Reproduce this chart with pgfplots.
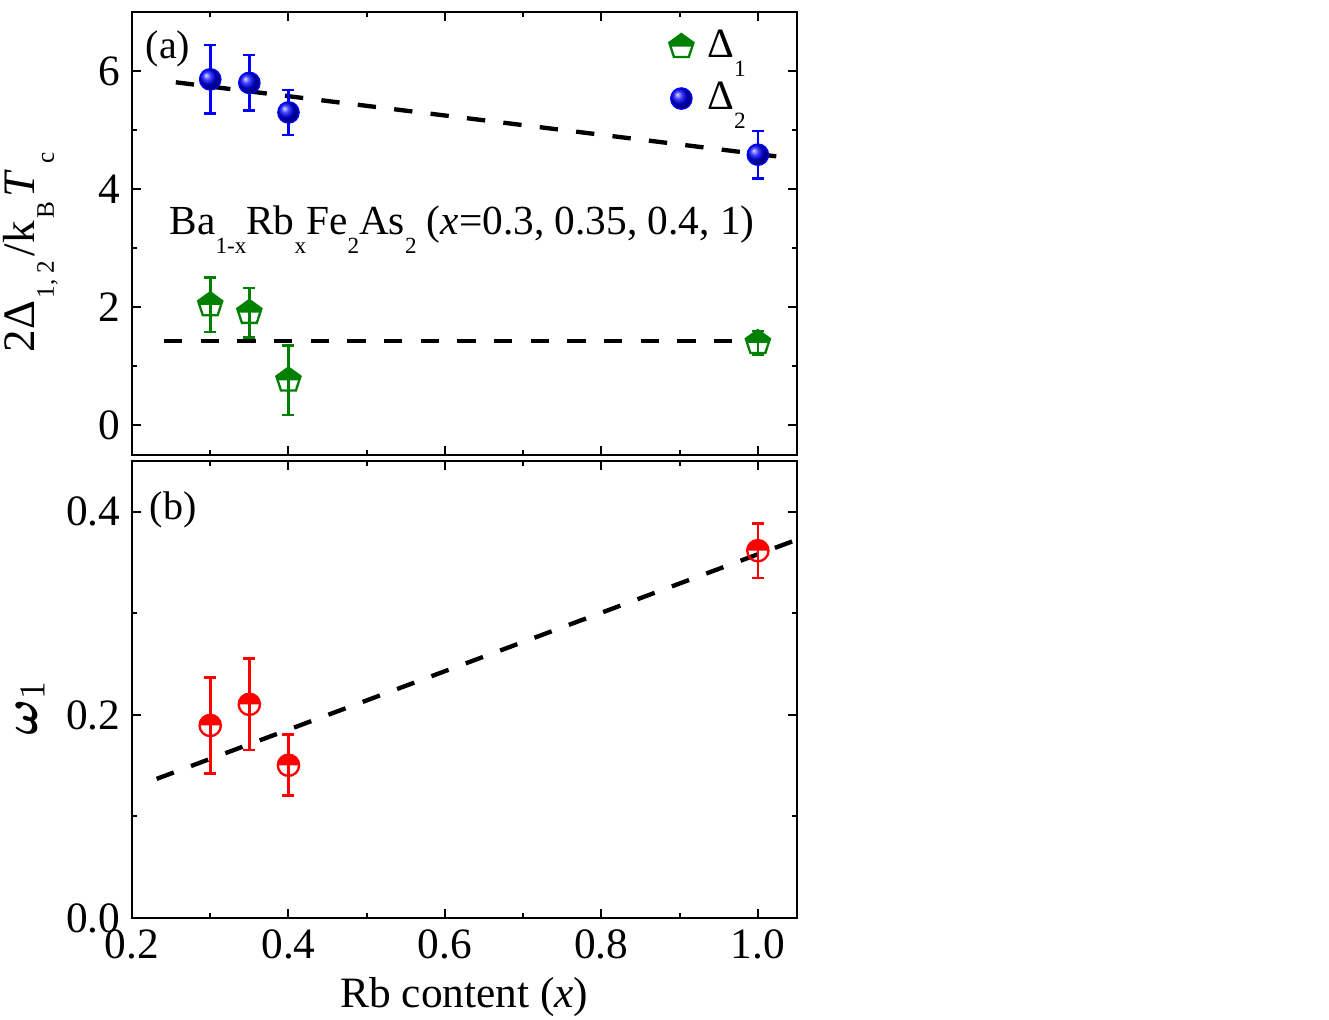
\documentclass[border=0pt]{standalone}
\usepackage{pgfplots}
\pgfplotsset{compat=1.18}
\usepackage{amsmath}
\usepackage{graphicx}
\usepackage{fontspec}
\setmainfont{Liberation Serif}
\usetikzlibrary{plotmarks}
\definecolor{dkgreen}{RGB}{0,128,0}
\definecolor{myblue}{RGB}{0,0,255}
\definecolor{myred}{RGB}{255,0,0}
\newcommand{\sbs}[1]{\raisebox{-0.44em}{\scalebox{0.56}{#1}}}

\pgfdeclareplotmark{halfpent}{%
  \pgfpathmoveto{\pgfpointpolar{90}{\pgfplotmarksize}}%
  \pgfpathlineto{\pgfpointpolar{162}{\pgfplotmarksize}}%
  \pgfpathlineto{\pgfpointpolar{234}{\pgfplotmarksize}}%
  \pgfpathlineto{\pgfpointpolar{306}{\pgfplotmarksize}}%
  \pgfpathlineto{\pgfpointpolar{18}{\pgfplotmarksize}}%
  \pgfpathclose
  \pgfusepathqstroke
  \pgfpathmoveto{\pgfpointpolar{90}{\pgfplotmarksize}}%
  \pgfpathlineto{\pgfpointpolar{162}{\pgfplotmarksize}}%
  \pgfpathlineto{\pgfpoint{-0.851\pgfplotmarksize}{0pt}}%
  \pgfpathlineto{\pgfpoint{0.851\pgfplotmarksize}{0pt}}%
  \pgfpathlineto{\pgfpointpolar{18}{\pgfplotmarksize}}%
  \pgfpathclose
  \pgfusepathqfill
}
\pgfdeclareplotmark{halfcirc}{%
  \pgfpathcircle{\pgfpointorigin}{\pgfplotmarksize}%
  \pgfusepathqstroke
  \pgfpathmoveto{\pgfpoint{\pgfplotmarksize}{0pt}}%
  \pgfpatharc{0}{180}{\pgfplotmarksize}%
  \pgfpathclose
  \pgfusepathqfill
}

\pgfplotsset{
  myaxis/.style={
    scale only axis, width=199.5pt,
    xmin=0.2, xmax=1.05,
    tick align=inside,
    axis line style={line width=0.6pt},
    every tick/.style={black, line width=0.6pt},
    major tick length=2.7pt, minor tick length=1.5pt,
    xtick={0.2,0.4,0.6,0.8,1.0}, minor x tick num=1,
    minor y tick num=1,
    tick label style={font=\fontsize{13}{15}\selectfont},
    /pgf/number format/assume math mode=true,
    label style={font=\fontsize{13}{15}\selectfont},
  },
  fitline/.style={black, line width=1.3pt, dash pattern=on 5.5pt off 5.5pt, forget plot},
}

\begin{document}
\begin{tikzpicture}
\path[use as bounding box] (0,0) rectangle (398.7pt,305.7pt);

% ---------------- panel (a)
\begin{axis}[myaxis,
  height=132.9pt, at={(39.6pt,169.2pt)}, anchor=south west,
  ymin=-0.5, ymax=7, ytick={0,2,4,6},
  xticklabels={},
  ylabel={2Δ\kern0.05em\sbs{1,\ 2}\kern0.1em/k\kern0.05em\sbs{B}\kern0.1em\textit{T}\kern0.15em\sbs{c}},
  ylabel style={at={(rel axis cs:-0.153,0.458)}, anchor=center, font=\fontsize{13.5}{15}\selectfont},
  legend style={draw=none, fill=none, at={(0.792,0.99)}, anchor=north west,
    font=\fontsize{12.5}{14}\selectfont, row sep=1.8pt},
  legend cell align=left,
]
\addplot[fitline] coordinates {(0.241,1.432) (1.018,1.432)};
\addplot[fitline] coordinates {(0.256,5.81) (1.03,4.546)};

\addplot+[only marks, dkgreen, mark=halfpent,
  mark options={draw=dkgreen, fill=dkgreen, mark size=3.8pt, line width=0.7pt},
  error bars/.cd, y dir=both, y explicit,
  error bar style={dkgreen, line width=0.8pt},
  error mark options={dkgreen, line width=0.8pt, mark size=1.8pt, rotate=90}]
  coordinates {
  (0.30,2.04) +- (0,0.46)
  (0.35,1.91) +- (0,0.42)
  (0.40,0.765) +- (0,0.585)
  (1.00,1.40) +- (0,0.20)
  };
\addlegendentry{\hspace{2.2pt}Δ\sbs{1}}

\addplot+[only marks, myblue, mark=ball,
  mark options={ball color=myblue, draw=none, mark size=3.2pt},
  error bars/.cd, y dir=both, y explicit,
  error bar style={myblue, line width=0.8pt},
  error mark options={myblue, line width=0.8pt, mark size=1.8pt, rotate=90}]
  coordinates {
  (0.30,5.86) +- (0,0.58)
  (0.35,5.80) +- (0,0.47)
  (0.40,5.30) +- (0,0.38)
  (1.00,4.585) +- (0,0.40)
  };
\addlegendentry{\hspace{2.2pt}Δ\sbs{2}}

\node[font=\fontsize{12}{14}\selectfont] at (rel axis cs:0.054,0.916) {(a)};
\node[font=\fontsize{12.4}{14}\selectfont, anchor=base west, inner sep=0pt] at (rel axis cs:0.0556,0.497)
  {Ba\sbs{1-x}Rb\sbs{x}Fe\sbs{2}As\sbs{2} (\textit{x}=0.3, 0.35, 0.4, 1)};
\end{axis}

% ---------------- panel (b)
\begin{axis}[myaxis,
  height=137.1pt, at={(39.6pt,30.3pt)}, anchor=south west,
  ymin=0, ymax=0.45, ytick={0,0.2,0.4},
  yticklabel style={/pgf/number format/.cd, fixed, fixed zerofill, precision=1},
  xticklabel style={/pgf/number format/.cd, fixed, fixed zerofill, precision=1},
  ylabel={$\boldsymbol{\omega}_{1}$},
  ylabel style={at={(rel axis cs:-0.153,0.46)}, anchor=center, font=\fontsize{15}{17}\selectfont},
  xlabel={Rb content (\textit{x})},
  xlabel style={at={(rel axis cs:0.5,-0.173)}, anchor=center},
]
\addplot[fitline] coordinates {(0.2315,0.137) (1.047,0.3717)};
\addplot+[only marks, myred, mark=halfcirc,
  mark options={draw=myred, fill=myred, mark size=3.2pt, line width=0.7pt},
  error bars/.cd, y dir=both, y explicit,
  error bar style={myred, line width=0.8pt},
  error mark options={myred, line width=0.8pt, mark size=1.8pt, rotate=90}]
  coordinates {
  (0.30,0.1896) +- (0,0.047)
  (0.35,0.2104) +- (0,0.045)
  (0.40,0.1504) +- (0,0.030)
  (1.00,0.3617) +- (0,0.027)
  };
\node[font=\fontsize{12}{14}\selectfont] at (rel axis cs:0.062,0.893) {(b)};
\end{axis}
\end{tikzpicture}
\end{document}
